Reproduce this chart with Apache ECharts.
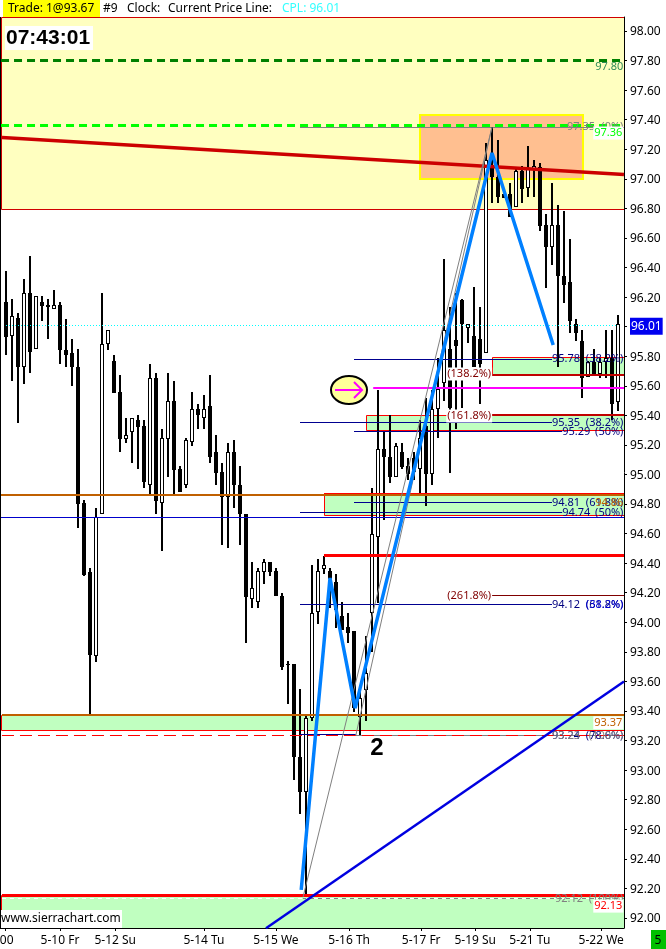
<!DOCTYPE html>
<html><head><meta charset="utf-8">
<style>html,body{margin:0;padding:0;background:#fff}#c{width:666px;height:949px}</style>
<script src="https://cdn.jsdelivr.net/npm/echarts@6/dist/echarts.min.js"></script>
</head><body><div id="c"></div>
<script>
// ---- candles (bar n is drawn at x value n+1) ----
const opens=[96.17,95.94,96.06,95.73,96.23,95.85,96.17,96.15,96.12,96.15,95.84,95.82,95.73,94.81,94.34,93.77,94.73,95.88,95.77,95.56,95.24,95.29,95.37,95.33,94.93,95.65,94.81,95.24,95.50,95.04,94.93,95.22,95.44,95.38,95.46,95.15,95.02,94.85,95.15,94.93,94.73,94.16,94.14,94.34,94.41,94.35,94.18,93.72,93.72,93.09,92.85,93.35,94.07,94.36,94.35,94.27,94.04,93.97,93.94,93.36,93.54,94.06,94.58,95.17,95.12,94.98,95.15,95.06,95.11,95.04,95.33,95.00,95.44,95.62,95.85,95.91,96.18,95.99,95.94,95.92,95.82,97.09,97.01,96.90,96.90,96.81,97.05,96.94,97.06,97.08,96.69,96.54,96.69,96.34,96.30,96.02,95.90,95.66,95.76,95.68,95.76,95.79,95.49];
const highs=[96.38,96.19,96.09,96.32,96.48,96.21,96.21,96.19,96.25,96.17,96.05,95.92,95.85,94.83,94.37,94.77,96.23,95.98,95.81,95.67,95.38,95.38,95.40,95.37,95.75,95.69,95.31,95.69,95.63,95.06,95.25,95.56,95.48,95.54,95.67,95.27,95.08,95.21,95.23,95.06,94.73,94.41,94.37,94.43,94.41,94.37,94.20,93.74,93.72,93.55,93.37,94.39,94.43,94.45,94.37,94.33,94.14,94.06,93.94,93.56,93.91,94.91,95.57,95.29,95.40,95.21,95.21,95.11,95.15,95.37,95.52,95.57,95.79,96.46,96.13,96.23,96.19,96.02,96.27,96.13,97.24,97.35,97.26,96.90,96.97,97.07,97.09,97.22,97.13,97.11,96.76,96.97,96.82,96.78,96.59,96.05,95.98,95.77,95.85,95.79,95.98,95.98,96.08];
const lows=[95.81,95.63,95.35,95.61,95.69,95.85,96.04,95.92,96.12,95.75,95.73,95.60,94.64,94.31,93.38,93.73,94.73,95.84,95.55,95.15,95.21,95.08,95.04,94.91,94.87,94.73,94.48,94.98,94.86,94.88,94.91,95.19,95.31,95.31,95.08,94.93,94.52,94.50,94.77,94.52,93.86,94.10,94.10,94.26,94.31,94.18,93.68,93.45,92.93,92.70,92.14,93.33,93.99,94.33,94.10,93.96,93.95,93.86,93.39,93.24,93.33,93.80,94.13,94.69,94.94,94.98,95.04,94.96,94.96,94.86,94.79,94.93,95.25,95.50,95.01,95.31,95.45,95.89,95.73,95.48,95.82,96.84,96.84,96.87,96.74,96.81,96.84,96.88,96.88,96.65,96.26,96.42,95.73,96.16,95.96,95.90,95.52,95.66,95.68,95.65,95.65,95.37,95.43];
const closes=[95.93,96.07,95.73,96.23,95.83,96.21,96.14,96.13,96.15,95.84,95.81,95.73,94.80,94.32,93.78,94.71,95.88,95.98,95.55,95.24,95.27,95.38,95.32,94.95,95.65,94.82,95.25,95.50,95.03,94.88,95.23,95.44,95.40,95.44,95.12,95.01,94.85,95.15,94.93,94.73,94.17,94.23,94.35,94.41,94.34,94.18,93.70,93.71,93.09,92.85,93.35,94.06,94.35,94.39,94.29,94.08,93.95,93.93,93.42,93.49,93.66,94.60,95.17,95.12,94.98,95.19,95.05,95.00,95.02,95.25,95.00,95.44,95.58,95.98,95.45,95.87,96.02,96.02,95.73,95.75,97.13,97.01,96.88,96.87,96.74,97.05,96.93,97.07,97.09,96.68,96.54,96.69,96.34,96.28,96.04,95.96,95.65,95.76,95.68,95.76,95.79,95.48,96.02];

// ---- axis labels ----
const priceTicks=[92,92.2,92.4,92.6,92.8,93,93.2,93.4,93.6,93.8,94,94.2,94.4,94.6,94.8,95,95.2,95.4,95.6,95.8,96,96.2,96.4,96.6,96.8,97,97.2,97.4,97.6,97.8,98];
const currentPrice=96.01;
const dateTicks=[0.85,10,19.2,34,46,58.2,70.2,79.2,88.3,100.2];
const dateLabels=[":00","5-10 Fr","5-12 Su","5-14 Tu","5-15 We","5-16 Th","5-17 Fr","5-19 Su","5-21 Tu","5-22 We"];

// ---- zones: [fromBar,toBar,topPrice,bottomPrice] ----
const stopBand=[[0.17,104,98.095,96.795]];
const salmonZone=[[70,97.2,97.43,97.0]];
const greenZones=[[82,104,95.79,95.675],[61,104,95.40,95.295],[54,104,94.86,94.725],[0.33,104,93.37,93.265],[0.33,104,92.15,91.932]];

// ---- horizontal levels: [fromBar,toBar,price] ----
const darkGreenDash=[[0.17,104,97.80]];
const limeDash=[[0.17,104,97.36]];
const grayLevels=[[50,104,97.35],[59.3,104,93.235],[50.5,104,92.13]];
const brownLevels=[[0,104,94.86],[0.33,104,93.37]];
const blueLevels=[[0,104,94.71]];
const navyLevels=[[59,92,95.78],[50,92,95.35],[59,93.7,95.29],[59,92,94.81],[50,93.7,94.74],[50,92,94.12],[50,59.3,93.24]];
const darkRedLevels=[[82,104,95.675],[82,104,95.40]];
const maroonLevels=[[82,104,94.18]];
const redThick=[[54,104,94.45],[0.33,104,92.15]];
const redMid=[[54,104,94.865]];
const magentaLevels=[[62.2,104,95.585]];
const redDash=[[0.33,104,93.235]];
const cyanDots=[[1,103,96.01]];
const paleDash=[[0.33,104,92.13]];

// ---- sloped lines: [bar,price] ----
const redSlope=[[0.33,97.28],[104,97.03]];
const blueTrend=[[44.33,91.93],[104,93.60]];
const grayRayA=[[50.5,92.14],[82,97.35]];
const grayRayB=[[59.3,93.235],[82,97.35]];
const zigzag=[[50.2,92.19],[55,94.30],[59.2,93.42],[82,97.175],[92.2,95.876]];

// ---- price labels: [text,bar,price] ----
const navyTextL=[["95.78",92,95.78],["95.35",92,95.35],["95.29",93.7,95.29],["94.81",92,94.81],["94.74",93.7,94.74],["94.12",92,94.12],["93.24",92,93.235]];
const navyTextR=[["(38.2%)",103.9,95.78],["(38.2%)",103.9,95.35],["(50%)",103.9,95.29],["(61.8%)",103.9,94.81],["(50%)",103.9,94.74],["(61.8%)",103.9,94.12],["(78.6%)",103.9,93.235]];
const grayTextL=[["97.35",94.5,97.35],["93.23",92,93.235],["92.12",92.5,92.13]];
const grayTextR=[["(0%)",103.9,97.35],["(100%)",103.9,93.235],["(100%)",103.9,92.13]];
const blueTextR=[["(38.2%)",103.9,94.12]];
const orangeText=[["94.86",103.9,94.81]];
const orangeBoxed=[["93.37",103.9,93.32]];
const limeBoxed=[["97.36",103.9,97.31]];
const redBoxed=[["92.13",103.9,92.08]];
const tealText=[["97.80",103.9,97.756]];
const maroonBoxed=[["(138.2%)",78.2,95.68],["(161.8%)",78.2,95.395],["(261.8%)",78.2,94.18]];
const pointLabel=[["2",62.8,93.15]];

const chart=echarts.init(document.getElementById('c'),null,{renderer:'canvas'});
const FONT='"Noto Sans",Tahoma,sans-serif';
const crisp=(v,w)=>Math.round(w)%2?Math.floor(v)+0.5:Math.round(v);

function zoneSeries(name,rows,fill,stroke,sw){
  return {name,type:'custom',data:rows,encode:{x:[0,1],y:[2,3]},clip:true,silent:true,
    renderItem(p,api){
      const a=api.coord([api.value(0),api.value(2)]),b=api.coord([api.value(1),api.value(3)]);
      const x=crisp(a[0],sw),y=crisp(a[1],sw);
      return {type:'rect',shape:{x,y,width:crisp(b[0],sw)-x,height:crisp(b[1],sw)-y},style:{fill,stroke,lineWidth:sw}};
    }};
}
function levelSeries(name,rows,color,width,dash){
  return {name,type:'custom',data:rows,encode:{x:[0,1],y:2},clip:true,silent:true,
    renderItem(p,api){
      const a=api.coord([api.value(0),api.value(2)]),b=api.coord([api.value(1),api.value(2)]);
      const y=crisp(a[1],width);
      return {type:'line',shape:{x1:a[0],y1:y,x2:b[0],y2:y},style:{stroke:color,lineWidth:width,lineDash:dash||null}};
    }};
}
function slopeSeries(name,pts,color,width){
  return {name,type:'line',data:pts,symbol:'none',silent:true,lineStyle:{color,width},z:2};
}
function textSeries(name,rows,color,align,opts){
  opts=opts||{};
  return {name,type:'custom',data:rows.map(r=>[r[1],r[2]]),encode:{x:0,y:1},clip:false,silent:true,
    renderItem(p,api){
      const c=api.coord([api.value(0),api.value(1)]);
      return {type:'text',style:Object.assign({text:rows[p.dataIndex][0],x:c[0],y:c[1],fill:color,
        font:opts.font||('11px '+FONT),align,verticalAlign:'middle'},
        opts.bg?{backgroundColor:opts.bg,padding:opts.pad||[1,1]}:{})};
    }};
}

const candleData=opens.map((o,i)=>[i+1,o,highs[i],lows[i],closes[i]]);
const candles={name:'price',type:'custom',data:candleData,encode:{x:0,y:[1,2,3,4]},clip:true,silent:true,
  renderItem(p,api){
    const xv=api.value(0),o=api.value(1),h=api.value(2),l=api.value(3),c=api.value(4);
    const x=Math.round(api.coord([xv,o])[0]);
    const yh=Math.round(api.coord([xv,h])[1]),yl=Math.round(api.coord([xv,l])[1]);
    const yt=Math.round(api.coord([xv,Math.max(o,c)])[1]);
    const yb=Math.max(yt+1,Math.round(api.coord([xv,Math.min(o,c)])[1]));
    const kids=[
      {type:'rect',shape:{x:x-1,y:yh,width:2,height:Math.max(1,yl-yh)},style:{fill:'#000'}},
      {type:'rect',shape:{x:x-2,y:yt,width:4,height:yb-yt},style:{fill:'#000'}}
    ];
    if(c>=o&&yb-yt>2)kids.push({type:'rect',shape:{x:x-1,y:yt+1,width:2,height:yb-yt-2},style:{fill:'#fff'}});
    return {type:'group',children:kids};
  }};

const option={
  animation:false,backgroundColor:'#fff',
  grid:{left:0,top:17,width:624,height:911,containLabel:false,outerBoundsMode:'none'},
  xAxis:{type:'value',min:0,max:104,splitLine:{show:false},
    axisLine:{show:true,lineStyle:{color:'#000',width:1}},
    axisTick:{show:true,length:3,lineStyle:{color:'#000'},customValues:dateTicks},
    axisLabel:{customValues:dateTicks,margin:7,color:'#000',fontSize:12,fontFamily:FONT,showMinLabel:true,showMaxLabel:true,
      hideOverlap:false,formatter:v=>dateLabels[dateTicks.indexOf(v)]||''}},
  yAxis:{type:'value',position:'right',min:91.932,max:98.095,splitLine:{show:false},
    axisLine:{show:true,onZero:false,lineStyle:{color:'#000',width:1}},
    axisTick:{show:true,length:3,lineStyle:{color:'#000'},customValues:priceTicks},
    axisLabel:{customValues:priceTicks.filter(v=>v!==96).concat([currentPrice]),margin:6,color:'#000',fontSize:12,fontFamily:FONT,
      hideOverlap:false,showMinLabel:true,showMaxLabel:true,padding:[2,0,0,0],
      formatter:v=>v===currentPrice?'{cpl|'+v.toFixed(2)+'}':v.toFixed(2),
      rich:{cpl:{color:'#fff',backgroundColor:'#0000F0',padding:[3,1,2,1],fontSize:12,fontFamily:FONT}}}},
  series:[
    zoneSeries('stop band',stopBand,'#FFFFC0','#D00000',1),
    zoneSeries('salmon zone',salmonZone,'#FFBF90','#FFFF00',2),
    zoneSeries('green zones',greenZones,'#C0FFC0','#FF0000',1),
    levelSeries('gray levels',grayLevels,'#808080',1),
    candles,
    levelSeries('dark green',darkGreenDash,'#008000',3,[8,5]),
    levelSeries('lime',limeDash,'#00FF00',3,[8,5]),
    levelSeries('cyan CPL',cyanDots,'#00FFFF',1,[1,2]),
    slopeSeries('red slope',redSlope,'#CC0000',3.5),
    levelSeries('pale dash',paleDash,'#FFFFFF',1,[4,4]),
    levelSeries('dark red',darkRedLevels,'#C00000',2),
    levelSeries('maroon',maroonLevels,'#800000',1),
    levelSeries('red mid',redMid,'#FF0000',2),
    levelSeries('red thick',redThick,'#FF0000',3),
    levelSeries('red dash',redDash,'#FF0000',1,[12,6]),
    levelSeries('brown',brownLevels,'#C06000',2),
    levelSeries('blue level',blueLevels,'#0000CC',1),
    levelSeries('navy',navyLevels,'#000090',1),
    levelSeries('magenta',magentaLevels,'#FF00FF',2),
    slopeSeries('ray A',grayRayA,'#808080',1),
    slopeSeries('ray B',grayRayB,'#808080',1),
    slopeSeries('trend',blueTrend,'#0000E0',2.5),
    slopeSeries('zigzag',zigzag,'#0080FF',3.5),
    textSeries('navy values',navyTextL,'#000080','left'),
    textSeries('navy pct',navyTextR,'#000080','right'),
    textSeries('gray values',grayTextL,'#808080','left'),
    textSeries('gray pct',grayTextR,'#808080','right'),
    textSeries('blue pct',blueTextR,'#0000D0','right'),
    textSeries('orange',orangeText,'#C06000','right'),
    textSeries('orange boxed',orangeBoxed,'#C06000','right',{bg:'#fff'}),
    textSeries('lime boxed',limeBoxed,'#00FF00','right',{bg:'#fff'}),
    textSeries('red boxed',redBoxed,'#FF0000','right',{bg:'#fff'}),
    textSeries('teal',tealText,'#2E8B57','right'),
    textSeries('maroon boxed',maroonBoxed,'#800000','center',{bg:'#fff'}),
    textSeries('point',pointLabel,'#000','center',{font:'bold 24px "Liberation Sans",Arial,sans-serif'})
  ],
  graphic:[
    {type:'rect',z:100,shape:{x:0,y:17,width:1,height:911},style:{fill:'#000'}},
    {type:'rect',z:100,shape:{x:3,y:0,width:97,height:17},style:{fill:'#FFFF00'}},
    {type:'text',z:101,x:8,y:9,style:{text:'Trade: 1@93.67',fill:'#000',font:'12px '+FONT,verticalAlign:'middle'}},
    {type:'text',z:101,x:103,y:9,style:{text:'#9',fill:'#000',font:'12px '+FONT,verticalAlign:'middle'}},
    {type:'text',z:101,x:127,y:9,style:{text:'Clock:',fill:'#000',font:'12px '+FONT,verticalAlign:'middle'}},
    {type:'text',z:101,x:168,y:9,style:{text:'Current Price Line:',fill:'#000',font:'12px '+FONT,verticalAlign:'middle'}},
    {type:'text',z:101,x:282,y:9,style:{text:'CPL: 96.01',fill:'#33FFFF',font:'12px '+FONT,verticalAlign:'middle'}},
    {type:'rect',z:100,shape:{x:5,y:26,width:88,height:24},style:{fill:'#fff'}},
    {type:'text',z:101,x:6,y:38,style:{text:'07:43:01',fill:'#000',font:'bold 21px "Liberation Sans",Arial,sans-serif',verticalAlign:'middle'}},
    {type:'rect',z:100,shape:{x:1,y:910,width:121,height:18},style:{fill:'#fff'}},
    {type:'text',z:101,x:1,y:919,style:{text:'www.sierrachart.com',fill:'#000',font:'12px '+FONT,verticalAlign:'middle'}},
    {type:'rect',z:100,shape:{x:651,y:930,width:15,height:19},style:{fill:'#00C000'}},
    {type:'text',z:101,x:658,y:941,style:{text:'5',fill:'#000',font:'12px '+FONT,align:'center',verticalAlign:'middle'}},
    {type:'ellipse',z:100,shape:{cx:349,cy:390,rx:18,ry:14},style:{fill:'#FFFF99',stroke:'#000',lineWidth:2}},
    {type:'polyline',z:101,shape:{points:[[335,390],[362,390]]},style:{stroke:'#FF00FF',lineWidth:2,fill:null}},
    {type:'polyline',z:101,shape:{points:[[354,382],[362,390],[354,398]]},style:{stroke:'#FF00FF',lineWidth:2,fill:null}}
  ]
};
chart.setOption(option);
</script></body></html>
